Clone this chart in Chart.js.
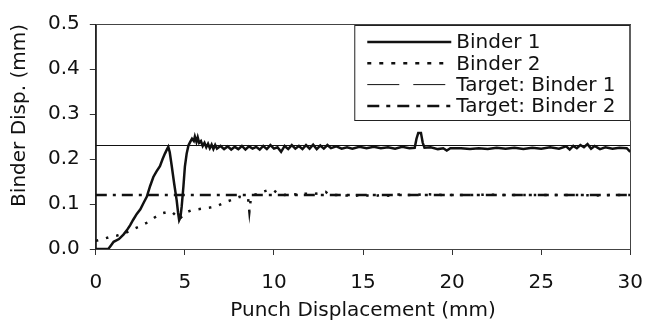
<!DOCTYPE html>
<html>
<head>
<meta charset="utf-8">
<script src="https://cdn.jsdelivr.net/npm/chart.js@4"></script>
<style>
  body { margin: 0; background: #fff; }
  #wrap { width: 647px; height: 326px; position: relative; }
</style>
</head>
<body>
<div id="wrap"><canvas id="c"></canvas></div>
<script>
// ── Data ────────────────────────────────────────────────────────────────────
const xTicks = [0, 5, 10, 15, 20, 25, 30];
const yTicks = [0.0, 0.1, 0.2, 0.3, 0.4, 0.5];

const binder1X = [0, 0.7, 0.85, 1.0, 1.3, 1.55, 1.75, 1.93, 2.1, 2.3, 2.5, 2.7, 2.86, 3.05, 3.23, 3.4, 3.6, 3.75, 3.88, 4.0,
  4.07, 4.15, 4.26, 4.4, 4.54, 4.62, 4.68, 4.75, 4.82, 4.92, 5.0, 5.1, 5.2, 5.3, 5.4, 5.5, 5.56, 5.65, 5.72, 5.8,
  5.9, 6.0, 6.1, 6.2, 6.3, 6.4, 6.5, 6.6, 6.7, 6.8, 7.0, 7.2, 7.4, 7.6, 7.8, 8.0, 8.2, 8.4, 8.6, 8.8,
  9.0, 9.2, 9.4, 9.6, 9.8, 10.0, 10.2, 10.4, 10.6, 10.8, 11.0, 11.2, 11.4, 11.6, 11.8, 12.0, 12.2, 12.4, 12.6, 12.8,
  13.0, 13.2, 13.5, 13.8, 14.1, 14.4, 14.8, 15.2, 15.6, 16.0, 16.4, 16.8, 17.2, 17.6, 17.9, 18.0, 18.1, 18.25, 18.35, 18.45,
  18.8, 19.2, 19.5, 19.7, 19.9, 20.5, 21.0, 21.5, 22.0, 22.5, 23.0, 23.5, 24.0, 24.5, 25.0, 25.5, 26.0, 26.4, 26.6, 26.8,
  27.0, 27.2, 27.4, 27.6, 27.8, 28.0, 28.3, 28.6, 29.0, 29.4, 29.8, 30.0];
const binder1Y = [0, 0, 0.008, 0.016, 0.022, 0.032, 0.042, 0.053, 0.065, 0.078, 0.088, 0.104, 0.116, 0.14, 0.16, 0.172, 0.184, 0.2, 0.212, 0.222,
  0.227, 0.215, 0.185, 0.145, 0.108, 0.08, 0.064, 0.07, 0.094, 0.14, 0.183, 0.212, 0.23, 0.238, 0.245, 0.24, 0.25, 0.238, 0.248, 0.236,
  0.24, 0.229, 0.236, 0.226, 0.234, 0.224, 0.232, 0.222, 0.231, 0.223, 0.229, 0.222, 0.228, 0.221, 0.227, 0.222, 0.229, 0.221, 0.228, 0.223,
  0.227, 0.221, 0.229, 0.222, 0.231, 0.223, 0.226, 0.216, 0.229, 0.222, 0.231, 0.223, 0.229, 0.222, 0.231, 0.223, 0.232, 0.222, 0.23, 0.223,
  0.231, 0.224, 0.228, 0.223, 0.226, 0.223, 0.227, 0.224, 0.227, 0.224, 0.226, 0.223, 0.227, 0.224, 0.225, 0.245, 0.258, 0.258, 0.236, 0.225,
  0.226, 0.222, 0.224, 0.219, 0.224, 0.224, 0.222, 0.224, 0.222, 0.225, 0.223, 0.225, 0.222, 0.225, 0.223, 0.226, 0.223, 0.228, 0.221, 0.229,
  0.224, 0.231, 0.226, 0.233, 0.223, 0.229, 0.222, 0.226, 0.223, 0.225, 0.224, 0.216];

const binder2X = [0, 0.4, 0.81, 1.2, 1.55, 1.9, 2.2, 2.6, 2.95, 3.3, 3.7, 4.0, 4.26, 4.5, 4.68, 4.9, 5.1, 5.37, 5.7, 6.02,
  6.4, 6.77, 7.05, 7.33, 7.7, 8.07, 8.4, 8.55, 8.62, 8.7, 8.8, 9.1, 9.37, 9.6, 9.75, 10.0, 10.2, 10.6, 11.0, 11.4,
  11.8, 12.2, 12.6, 12.9, 13.1, 13.5, 14, 14.5, 15, 15.5, 16, 16.5, 17, 17.5, 18, 18.5, 19, 19.5, 20, 21,
  22, 23, 24, 25, 26, 27, 28, 29, 30];
const binder2Y = [0.018, 0.022, 0.027, 0.03, 0.034, 0.04, 0.046, 0.053, 0.06, 0.07, 0.079, 0.082, 0.083, 0.074, 0.066, 0.075, 0.082, 0.086, 0.088, 0.09,
  0.092, 0.095, 0.1, 0.105, 0.11, 0.116, 0.114, 0.112, 0.083, 0.112, 0.12, 0.122, 0.127, 0.13, 0.128, 0.13, 0.124, 0.12, 0.122, 0.121,
  0.123, 0.122, 0.124, 0.127, 0.121, 0.12, 0.119, 0.118, 0.121, 0.117, 0.12, 0.118, 0.121, 0.12, 0.12, 0.122, 0.121, 0.12, 0.12, 0.12,
  0.121, 0.12, 0.12, 0.12, 0.12, 0.12, 0.119, 0.12, 0.12];

const target1X = [0, 30];
const target1Y = [0.23, 0.23];
const target2X = [0, 30];
const target2Y = [0.12, 0.12];

const seriesNames = ['Binder 1', 'Binder 2', 'Target: Binder 1', 'Target: Binder 2'];

const pts = (xs, ys) => xs.map((x, i) => ({ x, y: ys[i] }));
const FONT = 'DejaVu Sans';
const INK = '#111';

// ── Legend drawn inside the plot frame, Excel style ─────────────────────────
const boxLegend = {
  id: 'boxLegend',
  afterDatasetsDraw(chart) {
    const { ctx, chartArea: a } = chart;
    const left = a.right - 276, top = a.top + 1, w = 276, h = 96;
    ctx.save();
    ctx.fillStyle = '#fff';
    ctx.fillRect(left, top, w, h);
    ctx.strokeStyle = '#222';
    ctx.lineWidth = 1;
    ctx.strokeRect(left + 0.5, top + 0.5, w - 1, h - 1);
    ctx.font = `20px "${FONT}"`;
    ctx.textBaseline = 'middle';
    ctx.fillStyle = INK;
    chart.data.datasets.forEach((ds, i) => {
      const y = top + 17 + i * 21.3;
      ctx.beginPath();
      ctx.setLineDash(ds.legendDash || []);
      ctx.lineWidth = ds.legendWidth || ds.borderWidth;
      ctx.strokeStyle = ds.borderColor;
      ctx.moveTo(left + 13, y);
      ctx.lineTo(left + 97, y);
      ctx.stroke();
      ctx.setLineDash([]);
      ctx.fillText(ds.label, left + 102, y + 1);
    });
    ctx.restore();
  }
};

// ── Plot frame (top / right edges) ──────────────────────────────────────────
const frame = {
  id: 'frame',
  beforeDatasetsDraw(chart) {
    const { ctx, chartArea: a } = chart;
    ctx.save();
    ctx.strokeStyle = '#444';
    ctx.lineWidth = 1;
    ctx.strokeRect(Math.round(a.left) + 0.5, Math.round(a.top) + 0.5, Math.round(a.width), Math.round(a.height));
    ctx.restore();
  }
};

new Chart(document.getElementById('c'), {
  type: 'line',
  data: {
    datasets: [
      { label: seriesNames[0], data: pts(binder1X, binder1Y), borderColor: INK, borderWidth: 2.5, order: 1 },
      { label: seriesNames[1], data: pts(binder2X, binder2Y), borderColor: INK, borderWidth: 2.5,
        borderDash: [2.5, 8], borderCapStyle: 'butt', legendDash: [4, 8], order: 2 },
      { label: seriesNames[2], data: pts(target1X, target1Y), borderColor: INK, borderWidth: 1,
        legendDash: [32, 14], legendWidth: 1, order: 4 },
      { label: seriesNames[3], data: pts(target2X, target2Y), borderColor: INK, borderWidth: 2.5,
        borderDash: [11, 6, 3, 6], legendDash: [12, 7, 4, 7], order: 3 }
    ]
  },
  options: {
    responsive: true,
    maintainAspectRatio: false,
    animation: false,
    layout: { padding: { top: 24, right: 6, left: 8, bottom: 5 } },
    elements: { point: { radius: 0 }, line: { tension: 0 } },
    plugins: { legend: { display: false }, tooltip: { enabled: false } },
    scales: {
      x: {
        type: 'linear', min: 0, max: 30,
        afterBuildTicks: s => { s.ticks = xTicks.map(v => ({ value: v })); },
        ticks: { color: INK, font: { family: FONT, size: 20, lineHeight: 2.4 }, padding: 4, maxRotation: 0 },
        grid: { drawOnChartArea: false, drawTicks: true, tickLength: 6, color: '#333' },
        border: { display: true, color: '#222', width: 1 },
        title: { display: true, text: 'Punch Displacement (mm)', color: INK,
                 font: { family: FONT, size: 20, lineHeight: 1 }, padding: { top: -10, bottom: 0 } }
      },
      y: {
        type: 'linear', min: 0, max: 0.5,
        afterBuildTicks: s => { s.ticks = yTicks.map(v => ({ value: v })); },
        ticks: { color: INK, font: { family: FONT, size: 20 }, padding: 10, callback: v => Number(v).toFixed(1) },
        grid: { drawOnChartArea: false, drawTicks: true, tickLength: 6, color: '#333' },
        border: { display: true, color: '#222', width: 1 },
        title: { display: true, text: 'Binder Disp. (mm)', color: INK, align: 'end',
                 font: { family: FONT, size: 20 }, padding: { top: 0, bottom: 6 } }
      }
    }
  },
  plugins: [frame, boxLegend]
});
</script>
</body>
</html>
